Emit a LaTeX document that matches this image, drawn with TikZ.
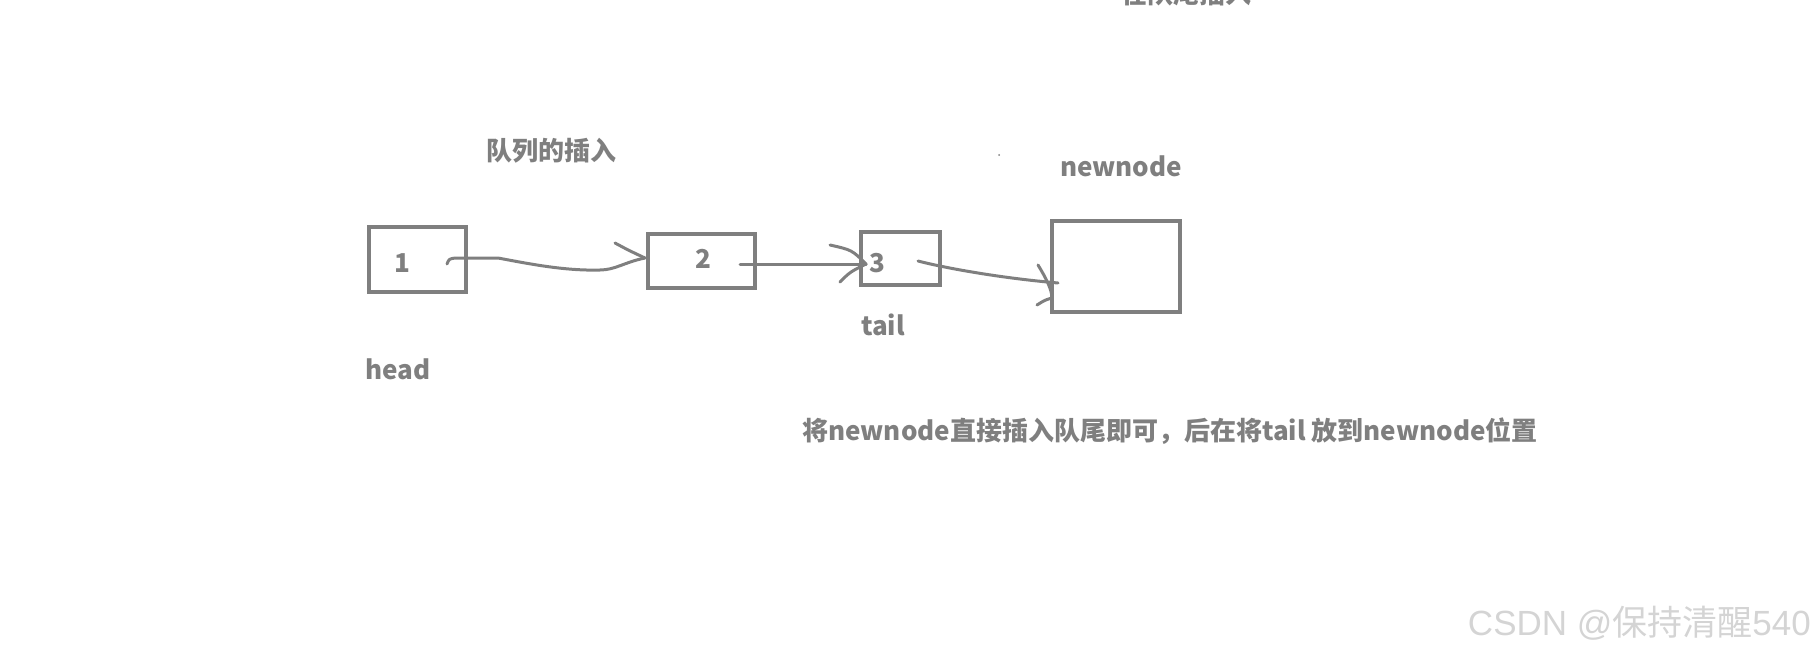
\documentclass[tikz,border=0pt]{standalone}
\usepackage{fontspec}
\setmainfont{Noto Sans CJK SC}
\newfontfamily\wmlat{Liberation Sans}
\newfontfamily\wmcjk{Noto Sans CJK SC}
\begin{document}
\begin{tikzpicture}[x=1pt,y=-1pt,
  ink/.style={draw=inkgray,line width=4pt},
  pen/.style={draw=inkgray,line width=3pt,line cap=round,line join=round},
  boxnode/.style={ink,inner sep=0pt,outer sep=0pt},
  lbl/.style={text=inkgray,font=\bfseries\fontsize{26}{30}\selectfont,inner sep=0pt,anchor=base},
  note/.style={text=inkgray,font=\bfseries\fontsize{26}{30}\selectfont,inner sep=0pt,anchor=base west},
]
\definecolor{inkgray}{HTML}{7F7F7F}
\definecolor{wmgray}{HTML}{D4D4D4}
\useasboundingbox (0,0) rectangle (1814,655);
\clip (0,0) rectangle (1814,655);
% boxes
\node[boxnode,minimum width=97pt,minimum height=65pt] (box1) at (417.5,259.5) {};
\node[boxnode,minimum width=107pt,minimum height=54pt] (box2) at (701.5,261) {};
\node[boxnode,minimum width=79pt,minimum height=53pt] (box3) at (900.5,258.5) {};
\node[boxnode,minimum width=128pt,minimum height=91pt] (newbox) at (1116,266.5) {};
% values
\node[lbl] (v1) at (402,272) {1};
\node[lbl] (v2) at (703,268) {2};
\node[lbl] (v3) at (877,272) {3};
% labels
\node[lbl] (title) at (551,161) {队列的插入};
\node[lbl] (toptitle) at (1186,4) {在队尾插入};
\node[lbl] (newlbl) at (1121,177) {newnode};
\node[lbl] (taillbl) at (883,335) {tail};
\node[lbl] (headlbl) at (398,379) {head};
\node[note] (desc) at (802,440) {将newnode直接插入队尾即可，后在将tail 放到newnode位置};
\node[inner sep=0pt,anchor=base east,text=wmgray,font=\fontsize{35}{40}\selectfont] (wm) at (1811,635) {{\wmlat CSDN @}{\wmcjk 保持清醒}{\wmlat 540}};
% stray speck
\fill[inkgray] (999,155) circle (1pt);
% connector end points
\coordinate (s1) at (447,264);
\coordinate (t1) at (645,258);
\coordinate (s2) at (740,264);
\coordinate (t2) at (866,264);
\coordinate (s3) at (918,261);
\coordinate (t3) at (1058,283);
% arrow 1
\draw[pen] (s1) .. controls (449,259) .. (455,258) -- (498,258)
  .. controls (530,264) and (565,271) .. (600,270)
  .. controls (615,270) and (625,262) .. (t1);
\draw[pen] (615,243) .. controls (628,250) .. (t1);
% arrow 2
\draw[pen] (s2) -- (t2);
\draw[pen] (830,245) .. controls (852,250) .. (t2);
\draw[pen] (840,282) .. controls (850,272) .. (t2);
% arrow 3
\draw[pen] (s3) .. controls (945,268) and (1000,278) .. (t3);
\draw[pen] (1038,265) .. controls (1046,278) and (1052,290) .. (1052,298);
\draw[pen] (1037,305) .. controls (1045,300) .. (1052,298);
\end{tikzpicture}
\end{document}
